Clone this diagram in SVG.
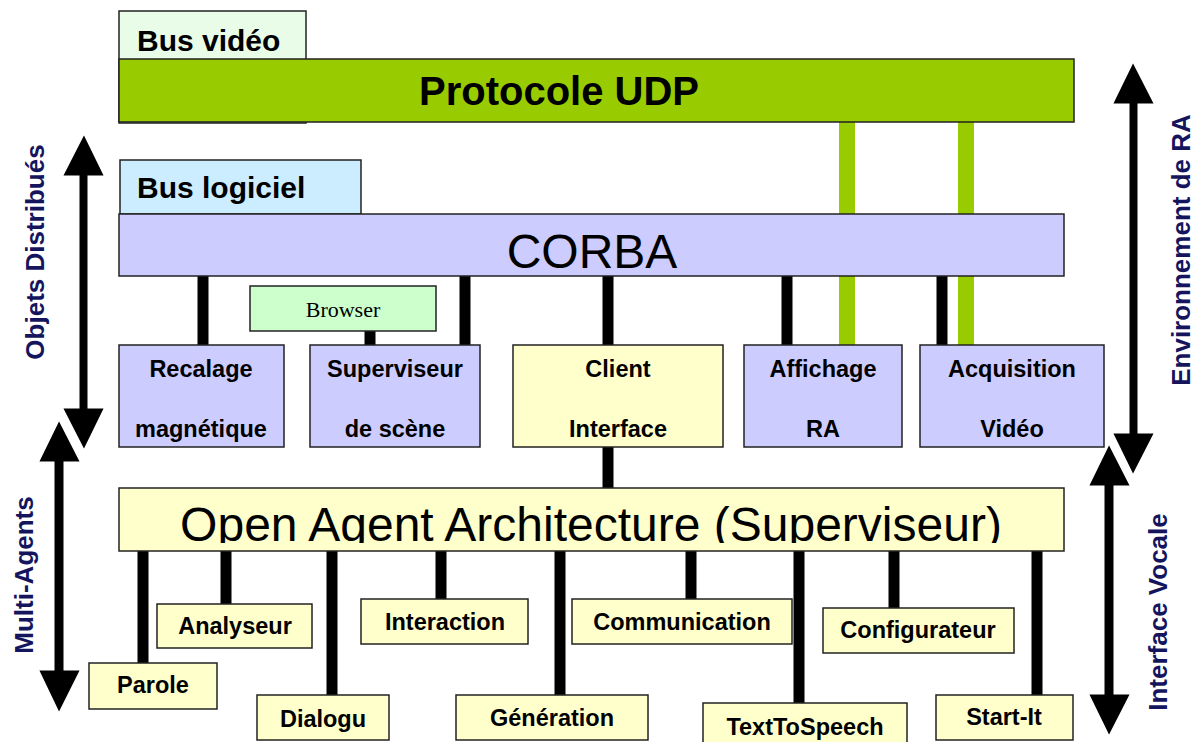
<svg xmlns="http://www.w3.org/2000/svg" width="1198" height="742" viewBox="0 0 1198 742">
<style>
.box{stroke:#222;stroke-width:1.5}
.purple{fill:#CCCCFF}
.yellow{fill:#FFFFCC}
.t{font-family:"Liberation Sans",Arial,sans-serif;font-weight:bold;font-size:23.5px;fill:#000;text-anchor:middle}
.big{font-family:"Liberation Sans",Arial,sans-serif;fill:#000;text-anchor:middle}
.lbl{font-family:"Liberation Sans",Arial,sans-serif;font-weight:bold;font-size:26px;fill:#15155E;text-anchor:middle}
.conn{stroke:#000;stroke-width:11}
.gconn{stroke:#99CC00;stroke-width:16}
.arrow{fill:#000;stroke:#fff;stroke-width:3;stroke-linejoin:miter}
</style>
<defs>
<clipPath id="oaaClip"><rect x="119" y="488" width="946" height="55"/></clipPath>
</defs>
<rect width="1198" height="742" fill="#fff"/>

<!-- side arrows -->
<g id="arrow-multi-agents">
<polygon class="arrow" points="59,418 82,463 65,463 65,669 82,669 59,715 37,669 53,669 53,463 37,463"/>
</g>
<g id="arrow-objets">
<polygon class="arrow" points="84,132 106,177 89,177 89,407 106,407 84,452 61,407 78,407 78,177 61,177"/>
</g>
<g id="arrow-interface-vocale">
<polygon class="arrow" points="1109,442 1132,487 1115,487 1115,693 1132,693 1109,738 1087,693 1103,693 1103,487 1087,487"/>
</g>
<g id="arrow-env">
<polygon class="arrow" points="1133,60 1156,105 1139,105 1139,432 1156,432 1133,477 1111,432 1128,432 1128,105 1111,105"/>
</g>

<g id="side-labels">
<text class="lbl" transform="translate(44,252) rotate(-90)">Objets Distribués</text>
<text class="lbl" transform="translate(33,575) rotate(-90)">Multi-Agents</text>
<text class="lbl" transform="translate(1190,250) rotate(-90)">Environnement de RA</text>
<text class="lbl" transform="translate(1167,612) rotate(-90)">Interface Vocale</text>
</g>

<!-- connectors -->
<g id="connectors">
<line class="gconn" x1="847" y1="122" x2="847" y2="345"/>
<line class="gconn" x1="966" y1="122" x2="966" y2="345"/>
<line class="conn" x1="203" y1="276" x2="203" y2="345"/>
<line class="conn" x1="465" y1="276" x2="465" y2="345"/>
<line class="conn" x1="608" y1="276" x2="608" y2="345"/>
<line class="conn" x1="787" y1="276" x2="787" y2="345"/>
<line class="conn" x1="942" y1="276" x2="942" y2="345"/>
<line class="conn" x1="370" y1="331" x2="370" y2="345"/>
<line class="conn" x1="608" y1="447" x2="608" y2="488"/>
<line class="conn" x1="143" y1="551" x2="143" y2="663"/>
<line class="conn" x1="226" y1="551" x2="226" y2="604"/>
<line class="conn" x1="332" y1="551" x2="332" y2="695"/>
<line class="conn" x1="441" y1="551" x2="441" y2="599"/>
<line class="conn" x1="560" y1="551" x2="560" y2="695"/>
<line class="conn" x1="691" y1="551" x2="691" y2="599"/>
<line class="conn" x1="799" y1="551" x2="799" y2="703"/>
<line class="conn" x1="894" y1="551" x2="894" y2="608"/>
<line class="conn" x1="1037" y1="551" x2="1037" y2="695"/>
</g>

<g id="bus-video">
<rect class="box" x="119" y="11" width="187" height="112" fill="#E8FCE8"/>
<text class="big" x="137" y="51" font-size="30" font-weight="bold" style="text-anchor:start">Bus vidéo</text>
</g>
<g id="udp">
<rect class="box" x="119" y="59" width="955" height="63" fill="#99CC00"/>
<text class="big" x="559" y="105" font-size="40" font-weight="bold">Protocole UDP</text>
</g>

<g id="bus-logiciel">
<rect class="box" x="120" y="160" width="241" height="54" fill="#CCECFF"/>
<text class="big" x="137" y="198" font-size="30" font-weight="bold" style="text-anchor:start">Bus logiciel</text>
</g>
<g id="corba">
<rect class="box purple" x="119" y="214" width="945" height="62"/>
<text class="big" x="592" y="268" font-size="48">CORBA</text>
</g>

<g id="browser">
<rect class="box" x="250" y="286" width="186" height="45" fill="#CCFFCC"/>
<text x="343" y="317" font-family="'Liberation Serif','Times New Roman',serif" font-size="22" text-anchor="middle">Browser</text>
</g>

<g id="recalage">
<rect class="box purple" x="119" y="345" width="165" height="102"/>
<text class="t" x="201" y="377">Recalage</text>
<text class="t" x="201" y="437">magnétique</text>
</g>
<g id="superviseur-scene">
<rect class="box purple" x="310" y="345" width="170" height="102"/>
<text class="t" x="395" y="377">Superviseur</text>
<text class="t" x="395" y="437">de scène</text>
</g>
<g id="client-interface">
<rect class="box yellow" x="513" y="345" width="210" height="102"/>
<text class="t" x="618" y="377">Client</text>
<text class="t" x="618" y="437">Interface</text>
</g>
<g id="affichage">
<rect class="box purple" x="744" y="345" width="158" height="102"/>
<text class="t" x="823" y="377">Affichage</text>
<text class="t" x="823" y="437">RA</text>
</g>
<g id="acquisition">
<rect class="box purple" x="920" y="345" width="184" height="102"/>
<text class="t" x="1012" y="377">Acquisition</text>
<text class="t" x="1012" y="437">Vidéo</text>
</g>

<g id="oaa">
<rect class="box yellow" x="119" y="488" width="945" height="63"/>
<text class="big" x="591" y="541" font-size="48" clip-path="url(#oaaClip)">Open Agent Architecture (Superviseur)</text>
</g>

<g id="parole">
<rect class="box yellow" x="89" y="663" width="128" height="46"/>
<text class="t" x="153" y="693">Parole</text>
</g>
<g id="analyseur">
<rect class="box yellow" x="157" y="604" width="155" height="44"/>
<text class="t" x="235" y="634">Analyseur</text>
</g>
<g id="dialogu">
<rect class="box yellow" x="257" y="695" width="132" height="45"/>
<text class="t" x="323" y="727">Dialogu</text>
</g>
<g id="interaction">
<rect class="box yellow" x="361" y="599" width="167" height="45"/>
<text class="t" x="445" y="630">Interaction</text>
</g>
<g id="communication">
<rect class="box yellow" x="572" y="599" width="220" height="45"/>
<text class="t" x="682" y="630">Communication</text>
</g>
<g id="generation">
<rect class="box yellow" x="456" y="695" width="192" height="45"/>
<text class="t" x="552" y="726">Génération</text>
</g>
<g id="texttospeech">
<rect class="box yellow" x="703" y="703" width="204" height="45"/>
<text class="t" x="805" y="735">TextToSpeech</text>
</g>
<g id="configurateur">
<rect class="box yellow" x="823" y="608" width="191" height="45"/>
<text class="t" x="918" y="638">Configurateur</text>
</g>
<g id="start-it">
<rect class="box yellow" x="936" y="695" width="137" height="45"/>
<text class="t" x="1004" y="725">Start-It</text>
</g>
</svg>
